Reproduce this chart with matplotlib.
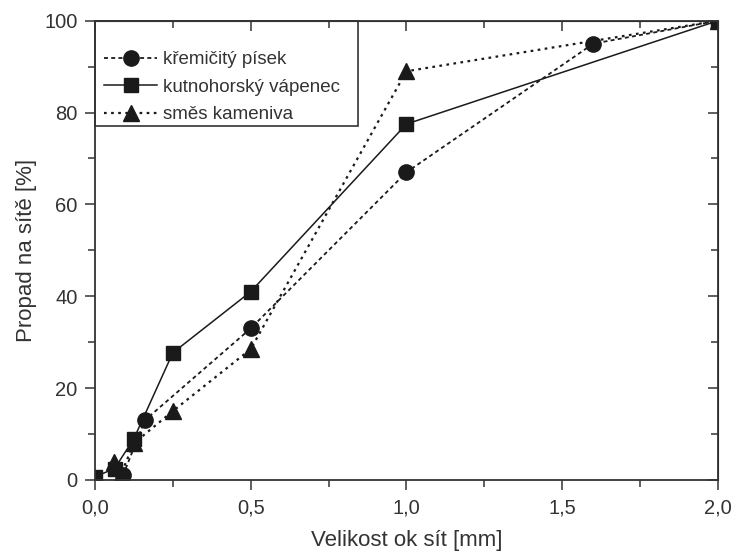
import matplotlib
matplotlib.use("Agg")
import matplotlib.pyplot as plt
from matplotlib.patches import Rectangle
from matplotlib.ticker import MultipleLocator, FuncFormatter

plt.rcParams['font.family'] = ['Liberation Sans', 'DejaVu Sans']

# Data
x_pisek = [0.09, 0.16, 0.5, 1.0, 1.6, 2.0]
y_pisek = [1.0, 13.0, 33.0, 67.0, 95.0, 100.0]

x_vapenec = [0.0, 0.063, 0.125, 0.25, 0.5, 1.0, 2.0]
y_vapenec = [0.7, 2.5, 9.0, 27.7, 41.0, 77.5, 100.0]

x_smes = [0.06, 0.08, 0.125, 0.25, 0.5, 1.0, 2.0]
y_smes = [4.0, 0.7, 8.0, 15.0, 28.5, 89.0, 100.0]

labels = ["křemičitý písek", "kutnohorský vápenec", "směs kameniva"]

fig = plt.figure(figsize=(7.34, 5.54), dpi=100)
ax = fig.add_axes([0.1294, 0.1336, 0.8486, 0.829])

c = '#1a1a1a'
ax.plot(x_pisek, y_pisek, color=c, linestyle=(0, (2.2, 1.8)), linewidth=1.3,
        marker='o', markersize=11, label=labels[0])
ax.plot(x_vapenec, y_vapenec, color=c, linestyle='-', linewidth=1.1,
        marker='s', markersize=10, label=labels[1])
ax.plot(x_smes, y_smes, color=c, linestyle=(0, (1.2, 2.0)), linewidth=1.6,
        marker='^', markersize=11, label=labels[2])

ax.set_xlim(0, 2.0)
ax.set_ylim(0, 100)
ax.xaxis.set_major_locator(MultipleLocator(0.5))
ax.xaxis.set_minor_locator(MultipleLocator(0.25))
ax.yaxis.set_major_locator(MultipleLocator(20))
ax.yaxis.set_minor_locator(MultipleLocator(10))
ax.xaxis.set_major_formatter(FuncFormatter(lambda v, p: f"{v:.1f}".replace('.', ',')))

txt = '#333333'
ax.tick_params(which='both', direction='out', colors=txt, labelsize=14.5, width=1.1)
ax.tick_params(which='major', length=7.5)
ax.tick_params(which='minor', length=5)
ax.tick_params(axis='x', which='major', pad=6)
ax.tick_params(axis='y', which='major', pad=5)
for s in ax.spines.values():
    s.set_linewidth(1.3)
    s.set_color('#333333')

# mirrored ticks on top and right, pointing inwards
top = ax.secondary_xaxis('top')
top.xaxis.set_major_locator(MultipleLocator(0.5))
top.xaxis.set_minor_locator(MultipleLocator(0.25))
top.tick_params(which='both', direction='in', labeltop=False, colors=txt, width=1.1)
top.tick_params(which='major', length=7.5)
top.tick_params(which='minor', length=5)
right = ax.secondary_yaxis('right')
right.yaxis.set_major_locator(MultipleLocator(20))
right.yaxis.set_minor_locator(MultipleLocator(10))
right.tick_params(which='both', direction='in', labelright=False, colors=txt, width=1.1)
right.tick_params(which='major', length=7.5)
right.tick_params(which='minor', length=5)

ax.set_xlabel("Velikost ok sít [mm]", fontsize=16, color=txt, labelpad=9)
ax.set_ylabel("Propad na sítě [%]", fontsize=16, color=txt, labelpad=5)

# legend box spans from the top of the axes, extra room above the entries
ax.add_patch(Rectangle((0, 0.771), 0.422, 0.229, transform=ax.transAxes,
                       fill=False, edgecolor='#333333', linewidth=1.2,
                       zorder=5, clip_on=False))
leg = ax.legend(loc='center left', bbox_to_anchor=(0.0, 0.855), fontsize=13.5,
                frameon=False, borderaxespad=0, borderpad=0.5, handlelength=2.8,
                labelspacing=0.55, handletextpad=0.35)
for t in leg.get_texts():
    t.set_color(txt)

fig.savefig("out.png", dpi=100, facecolor='white')
